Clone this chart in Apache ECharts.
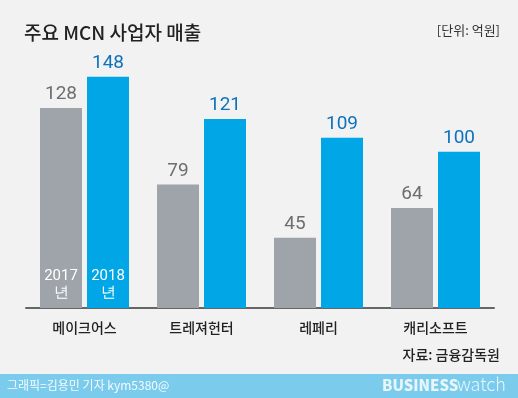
<!DOCTYPE html>
<html>
<head>
<meta charset="utf-8">
<script src="https://cdn.jsdelivr.net/npm/echarts@6/dist/echarts.min.js"></script>
<style>
	html, body { margin: 0; padding: 0; background: #f2f2f2; }
	#chart { width: 518px; height: 398px; }
</style>
</head>
<body>
<div id="chart"></div>
<script>
var companies = ['메이크어스', '트레져헌터', '레페리', '캐리소프트'];
var sales2017 = [128, 79, 45, 64];
var sales2018 = [148, 121, 109, 100];
var yearLabels = ['2017\n년', '2018\n년'];

var FONT = '"Noto Sans CJK KR", "Noto Sans", sans-serif';
var NUM_FONT = 'Roboto, "Noto Sans", sans-serif';
var BAR_W = 42, BAR_GAP = 5;

var myChart = echarts.init(document.getElementById('chart'));

var option = {
	backgroundColor: '#f2f2f2',
	textStyle: { fontFamily: FONT },
	title: {
		text: '주요 MCN 사업자 매출',
		left: 19,
		top: 18,
		textStyle: { fontSize: 19, fontWeight: 500, color: '#222', fontFamily: FONT }
	},
	grid: { left: 26, right: 24, top: 58, bottom: 90 },
	xAxis: {
		type: 'category',
		data: companies,
		axisLine: { lineStyle: { color: '#666', width: 2 } },
		axisTick: { show: false },
		axisLabel: { fontSize: 14, color: '#222', margin: 13, fontFamily: FONT, fontWeight: 500 }
	},
	yAxis: {
		type: 'value',
		min: 0,
		max: 160,
		show: false,
		splitLine: { show: false }
	},
	series: [
		{
			name: '2017',
			type: 'bar',
			data: sales2017,
			barWidth: BAR_W,
			barGap: (BAR_GAP / BAR_W * 100) + '%',
			itemStyle: { color: '#9ea4a9' },
			label: {
				show: true, position: 'top', distance: 4,
				fontSize: 19, color: '#6d6e71', fontFamily: NUM_FONT
			}
		},
		{
			name: '2018',
			type: 'bar',
			data: sales2018,
			barWidth: BAR_W,
			barGap: (BAR_GAP / BAR_W * 100) + '%',
			itemStyle: { color: '#00a6e5' },
			label: {
				show: true, position: 'top', distance: 4,
				fontSize: 19, color: '#0e72bd', fontFamily: NUM_FONT
			}
		}
	]
};

myChart.setOption(option);

var graphics = [
	{
		type: 'text', right: 18, top: 24,
		style: { text: '[단위: 억원]', fill: '#333', font: '13px ' + FONT }
	},
	{
		type: 'text', right: 18, top: 348,
		style: { text: '자료: 금융감독원', fill: '#222', font: '500 14px ' + FONT }
	},
	{
		type: 'rect', left: 0, top: 374,
		shape: { width: 518, height: 24 },
		style: { fill: '#7bcbec' }
	},
	{
		type: 'text', left: 7, top: 379,
		style: { text: '그래픽=김용민 기자 kym5380@', fill: '#f4fbfe', font: '12px ' + FONT }
	},
	{
		type: 'text', left: 382, top: 378,
		style: { text: 'BUSINESS', fill: '#e8f6fc', font: '900 15px ' + FONT }
	},
	{
		type: 'text', left: 457, top: 375,
		style: { text: 'watch', fill: '#e8f6fc', font: '300 18px ' + FONT }
	}
];

// year text inside the bars of the first group (graphic sits above the bars)
var base = myChart.convertToPixel({ xAxisIndex: 0, yAxisIndex: 0 }, [0, 0]);
var offsets = [-(BAR_W + BAR_GAP) / 2, (BAR_W + BAR_GAP) / 2];
for (var s = 0; s < yearLabels.length; s++) {
	graphics.push({
		type: 'text',
		z: 100,
		x: base[0] + offsets[s],
		y: base[1] - 40,
		style: {
			text: yearLabels[s], fill: '#fff', align: 'center',
			font: '15px ' + NUM_FONT, lineHeight: 17
		}
	});
}
myChart.setOption({ graphic: graphics });
</script>
</body>
</html>
